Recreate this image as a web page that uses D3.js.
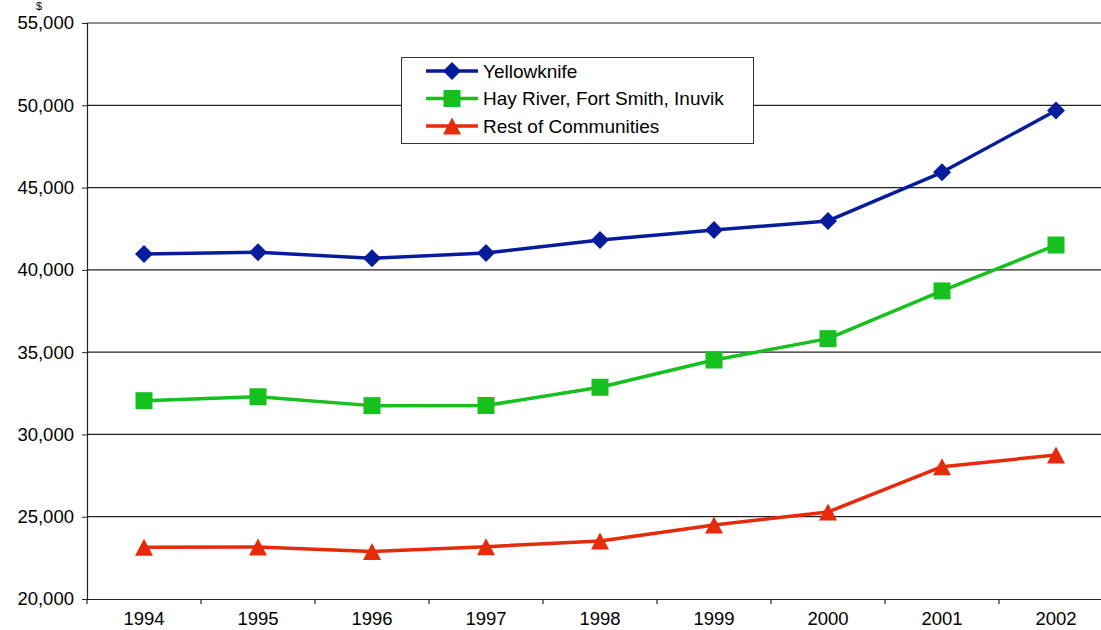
<!DOCTYPE html>
<html><head><meta charset="utf-8">
<script src="https://cdn.jsdelivr.net/npm/d3@7/dist/d3.min.js"></script>
<style>body{margin:0;background:#fff}svg{display:block}text{font-family:"Liberation Sans",Arial,Helvetica,sans-serif}</style>
</head><body><svg id="c" width="1101" height="630"></svg>
<script>
const years = ["1994","1995","1996","1997","1998","1999","2000","2001","2002"];
const yellowknife = [40960, 41070, 40700, 41025, 41815, 42420, 42970, 45930, 49680];
const hayRiver = [32050, 32290, 31750, 31760, 32865, 34520, 35820, 38720, 41510];
const restOfCommunities = [23140, 23160, 22880, 23180, 23530, 24500, 25290, 28040, 28750];
const yTicks = [20000, 25000, 30000, 35000, 40000, 45000, 50000, 55000];
const seriesNames = ["Yellowknife", "Hay River, Fort Smith, Inuvik", "Rest of Communities"];

const series = [
  {name: seriesNames[0], values: yellowknife, color: "#071C9C", marker: "diamond"},
  {name: seriesNames[1], values: hayRiver, color: "#16C01E", marker: "square"},
  {name: seriesNames[2], values: restOfCommunities, color: "#E62A0A", marker: "triangle"}
];

const svg = d3.select("#c");
const mLeft = 87, mTop = 23, mBottom = 599, bandW = 114;
const x = d3.scaleBand().domain(years).range([mLeft, mLeft + bandW * years.length]);
const y = d3.scaleLinear().domain([20000, 55000]).range([mBottom, mTop]);
const FONT = '"Liberation Sans",Arial,sans-serif';

// grid
svg.append("g").selectAll("line").data(yTicks.filter(d => d > 20000)).join("line")
  .attr("x1", mLeft).attr("x2", 1101)
  .attr("y1", d => y(d)).attr("y2", d => y(d))
  .attr("stroke", "#222").attr("stroke-width", 1.2);

// y axis
const yAxis = d3.axisLeft(y).tickValues(yTicks).tickSize(5).tickPadding(8).tickFormat(d3.format(","));
const gy = svg.append("g").attr("transform", `translate(${mLeft},0)`).call(yAxis);
gy.select(".domain").attr("stroke", "#222").attr("stroke-width", 1.2);
gy.selectAll(".tick line").attr("stroke", "#222");
gy.selectAll("text").attr("font-size", 18.5).attr("fill", "#000").style("font-family", FONT);

// x axis
const xAxis = d3.axisBottom(x).tickSize(0).tickPadding(13);
const gx = svg.append("g").attr("transform", `translate(0,${mBottom})`).call(xAxis);
gx.select(".domain").attr("stroke", "#222").attr("stroke-width", 1.2);
gx.selectAll("text").attr("font-size", 18.5).attr("fill", "#000").style("font-family", FONT);
// boundary ticks
svg.append("g").selectAll("line").data(years).join("line")
  .attr("x1", d => x(d)).attr("x2", d => x(d))
  .attr("y1", mBottom).attr("y2", mBottom + 5)
  .attr("stroke", "#222").attr("stroke-width", 1.2);

svg.append("text").attr("x", 36).attr("y", 10).attr("font-size", 11).text("$");

function markerPath(type, cx, cy) {
  if (type === "diamond") { const r = 9; return `M${cx},${cy - r}L${cx + r},${cy}L${cx},${cy + r}L${cx - r},${cy}Z`; }
  if (type === "square") { const r = 8.5; return `M${cx - r},${cy - r}h${2 * r}v${2 * r}h${-2 * r}Z`; }
  const w = 9, h = 8.5; return `M${cx},${cy - h}L${cx + w},${cy + h}L${cx - w},${cy + h}Z`;
}

const line = d3.line().x((d, i) => x(years[i]) + x.bandwidth() / 2).y(d => y(d));
series.forEach(s => {
  svg.append("path").attr("d", line(s.values)).attr("fill", "none")
    .attr("stroke", s.color).attr("stroke-width", 3.5).attr("stroke-linejoin", "round");
  svg.append("g").selectAll("path").data(s.values).join("path")
    .attr("d", (d, i) => markerPath(s.marker, x(years[i]) + x.bandwidth() / 2, y(d)))
    .attr("fill", s.color);
});

// legend
const lg = svg.append("g");
lg.append("rect").attr("x", 401.5).attr("y", 57.5).attr("width", 352).attr("height", 86)
  .attr("fill", "#fff").attr("stroke", "#333").attr("stroke-width", 1);
series.forEach((s, i) => {
  const cy = 71 + i * 27.5;
  lg.append("line").attr("x1", 426).attr("x2", 478).attr("y1", cy).attr("y2", cy)
    .attr("stroke", s.color).attr("stroke-width", 3.5);
  lg.append("path").attr("d", markerPath(s.marker, 452, cy)).attr("fill", s.color);
  lg.append("text").attr("x", 483).attr("y", cy + 6.5).attr("font-size", 19).text(s.name);
});
</script></body></html>
